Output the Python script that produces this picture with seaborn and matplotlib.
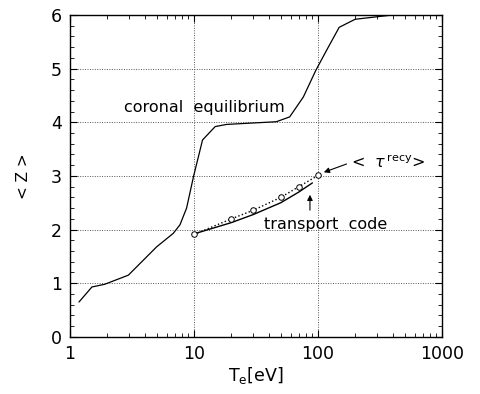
import numpy as np
import pandas as pd
import matplotlib
matplotlib.use("Agg")
import matplotlib.pyplot as plt
import seaborn as sns
from matplotlib.ticker import MultipleLocator, FixedLocator, LogLocator, NullFormatter

# coronal equilibrium curve
coronal_T = [1.18, 1.5, 1.9, 2.95, 5.0, 6.8, 7.7, 8.7, 9.9, 11.7, 14.8, 18.3, 46, 59, 76, 96, 117, 148, 199, 400, 1000]
coronal_Z = [0.65, 0.93, 0.98, 1.15, 1.68, 1.93, 2.09, 2.40, 2.99, 3.67, 3.92, 3.96, 4.01, 4.10, 4.47, 4.97, 5.34, 5.77, 5.92, 6.0, 6.0]

# transport code (solid)
transport_T = [10, 20, 30, 50, 70, 90]
transport_Z = [1.92, 2.13, 2.28, 2.50, 2.70, 2.87]

# <tau_recy> (circles, dotted)
recy_T = [10, 20, 30, 50, 70, 100]
recy_Z = [1.91, 2.20, 2.36, 2.60, 2.80, 3.01]

sns.set_style("ticks")
plt.rcParams['font.family'] = ['DejaVu Sans']
plt.rcParams['text.color'] = 'black'
plt.rcParams['axes.labelcolor'] = 'black'
plt.rcParams['xtick.color'] = 'black'
plt.rcParams['ytick.color'] = 'black'

fig = plt.figure(figsize=(4.8, 3.94), dpi=100)
ax = fig.add_axes([0.146, 0.145, 0.775, 0.817])

sns.lineplot(x=coronal_T, y=coronal_Z, ax=ax, color="black", lw=0.9, sort=False)
sns.lineplot(x=transport_T, y=transport_Z, ax=ax, color="black", lw=1.0, sort=False)
sns.lineplot(x=recy_T, y=recy_Z, ax=ax, color="black", lw=1.0, linestyle=":", sort=False,
             marker="o", markersize=4, markerfacecolor="white", markeredgecolor="black",
             markeredgewidth=0.7)

ax.set_xscale("log")
ax.set_xlim(1, 1000)
ax.set_ylim(0, 6)
ax.xaxis.set_major_locator(FixedLocator([1, 10, 100, 1000]))
ax.set_xticklabels(["1", "10", "100", "1000"])
ax.xaxis.set_minor_locator(LogLocator(base=10, subs=np.arange(2, 10)))
ax.xaxis.set_minor_formatter(NullFormatter())
ax.yaxis.set_major_locator(MultipleLocator(1))
ax.yaxis.set_minor_locator(MultipleLocator(0.2))

ax.tick_params(which="both", direction="in", top=True, right=True, labelsize=12.5,
               color="black", labelcolor="black")
ax.tick_params(which="major", length=5, width=0.8, pad=6)
ax.tick_params(which="minor", length=3, width=0.6)
for s in ax.spines.values():
    s.set_color("black")
    s.set_linewidth(1.0)

for v in [10, 100]:
    ax.axvline(v, color="#555555", lw=0.7, ls=(0, (1, 1.5)), zorder=0)
for v in [1, 2, 3, 4, 5]:
    ax.axhline(v, color="#555555", lw=0.7, ls=(0, (1, 1.5)), zorder=0)

ax.set_xlabel(r"T$_\mathregular{e}$[eV]", fontsize=12.5, labelpad=1, color="black")
ax.set_ylabel("< Z >", fontsize=11, labelpad=14, color="black")

ax.text(2.73, 4.28, "coronal  equilibrium", fontsize=11.5, ha="left", va="center", color="black")
ax.text(36.5, 2.09, "transport  code", fontsize=11.5, ha="left", va="center", color="black")
ax.text(183, 3.26, r"<  $\tau^{\,\mathregular{recy}}$>", fontsize=11.5, ha="left", va="center", color="black")

ax.annotate("", xy=(106, 3.05), xytext=(178, 3.24),
            arrowprops=dict(arrowstyle="-|>", color="black", lw=0.8, mutation_scale=8))
ax.annotate("", xy=(86, 2.70), xytext=(86, 2.31),
            arrowprops=dict(arrowstyle="-|>", color="black", lw=0.8, mutation_scale=8))

fig.savefig("out.png", dpi=100)
